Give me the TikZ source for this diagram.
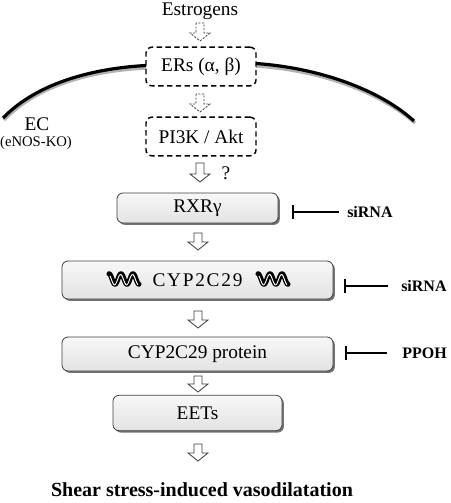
\documentclass[tikz,border=0pt]{standalone}
\usepackage{fontspec}
\setmainfont{Liberation Serif}
\usetikzlibrary{calc,shadows}
\begin{document}
\begin{tikzpicture}[x=0.75pt,y=-0.75pt,
  dbox/.style={draw=black, line width=1.1pt, dash pattern=on 4pt off 2.6pt, rounded corners=4.5pt, font=\fontsize{14.5}{16}\selectfont, inner sep=0pt},
  gbox/.style={draw=black!75, line width=0.6pt, rounded corners=4.5pt, top color=gray!6, bottom color=gray!22,
     drop shadow={shadow xshift=1.4pt, shadow yshift=-1.4pt, fill=black!55, opacity=1},
     font=\fontsize{14.5}{16}\selectfont, inner sep=0pt},
  barr/.style={draw=black!75, fill=white, line width=0.6pt, line join=miter},
  darr/.style={draw=black!75, fill=white, line width=0.6pt, dash pattern=on 1.6pt off 1.1pt},
  inh/.style={line width=1.5pt},
  lab/.style={font=\fontsize{12}{14}\bfseries\selectfont},
  txt/.style={font=\fontsize{14.5}{16}\selectfont, inner sep=0pt}
]
\useasboundingbox (0,0) rectangle (450,503);
\newcommand{\blockarr}[3][barr]{%
  \draw[#1] ($(#2)+(-4,0)$) -- ($(#3)+(-4,-8)$) -- ($(#3)+(-10,-8)$) -- (#3) -- ($(#3)+(10,-8)$) -- ($(#3)+(4,-8)$) -- ($(#2)+(4,0)$) -- cycle;}
\newcommand{\wavy}[2]{%
  \draw[line width=3.8pt, line cap=round, line join=round] plot[domain=0:30, samples=61, smooth] ({#1+\x},{#2-5.2*cos(\x*30)});
  \draw[white, line width=0.7pt] plot[domain=1:29, samples=61, smooth] ({#1+\x},{#2+0.7-5.2*cos(\x*30+14)});}

% membrane
\draw[gray!60, line width=2.6pt] (4,120) .. controls (40,82) and (100,70) .. (146,68);
\draw[gray!60, line width=2.6pt] (256,66) .. controls (320,70) and (380,92) .. (415,123);
\draw[line width=2.4pt] (3,118) .. controls (40,80) and (100,68) .. (146,65.5);
\draw[line width=2.4pt] (256,63.5) .. controls (320,68) and (380,90) .. (414,121);

% texts
\node[txt] (est) at (200,11) {Estrogens};
\node[txt] (ec) at (37,124) {EC};
\node[font=\fontsize{11}{12}\selectfont, inner sep=0pt] (ko) at (36,143) {(eNOS-KO)};

% dashed boxes
\node[dbox, minimum width=82.5pt, minimum height=29pt] (ers) at (201,66.5) {ERs (α, β)};
\node[dbox, minimum width=82.5pt, minimum height=29pt] (pi3k) at (201,136.5) {PI3K / Akt};

% gray boxes
\node[gbox, minimum width=120.75pt, minimum height=22.5pt] (rxr) at (197.5,208) {RXRγ};
\node[gbox, minimum width=203.25pt, minimum height=28.5pt] (cyp) at (197.5,280) {\addfontfeature{LetterSpace=9}CYP2C29};
\node[gbox, minimum width=203.25pt, minimum height=25.5pt] (prot) at (197.5,354) {CYP2C29 protein};
\node[gbox, minimum width=126.75pt, minimum height=26.5pt] (eets) at (197.5,413) {EETs};
\node[font=\fontsize{15}{17}\bfseries\selectfont, inner sep=0pt] (shear) at (202,490) {Shear stress-induced vasodilatation};

\wavy{109}{279}
\wavy{258}{279}

% arrows
\coordinate (a1s) at (200,23); \coordinate (a1e) at (200,41);
\coordinate (a2s) at (200,94); \coordinate (a2e) at (200,112);
\coordinate (a3s) at (200,163); \coordinate (a3e) at (200,182);
\coordinate (a4s) at (198,233); \coordinate (a4e) at (198,250);
\coordinate (a5s) at (198,311); \coordinate (a5e) at (198,328);
\coordinate (a6s) at (198,376); \coordinate (a6e) at (198,392);
\coordinate (a7s) at (198,444); \coordinate (a7e) at (198,461);
\blockarr[darr]{a1s}{a1e}
\blockarr[darr]{a2s}{a2e}
\blockarr{a3s}{a3e}
\blockarr{a4s}{a4e}
\blockarr{a5s}{a5e}
\blockarr{a6s}{a6e}
\blockarr{a7s}{a7e}
\node[txt] (q) at (226,173) {?};

% inhibitors
\node[lab, anchor=west, inner sep=0pt] (si1) at (347,212) {siRNA};
\node[lab, anchor=west, inner sep=0pt] (si2) at (401,286) {siRNA};
\node[lab, anchor=west, inner sep=0pt] (ppoh) at (402,353) {PPOH};
\coordinate (b1) at (293,212); \coordinate (b2) at (345,286); \coordinate (b3) at (346,353);
\draw[inh] (b1) -- ([xshift=-6pt]si1.west);
\draw[inh] ($(b1)+(0,-7)$) -- ($(b1)+(0,7)$);
\draw[inh] (b2) -- ([xshift=-10pt]si2.west);
\draw[inh] ($(b2)+(0,-7)$) -- ($(b2)+(0,7)$);
\draw[inh] (b3) -- ([xshift=-11pt]ppoh.west);
\draw[inh] ($(b3)+(0,-7)$) -- ($(b3)+(0,7)$);
\end{tikzpicture}
\end{document}
